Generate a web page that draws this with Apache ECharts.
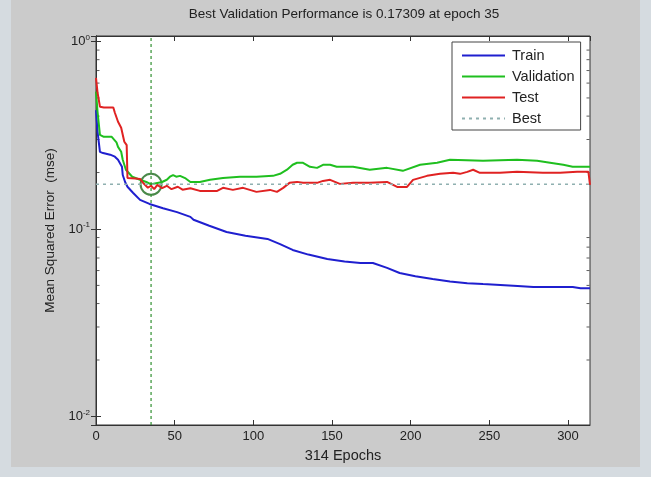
<!DOCTYPE html>
<html>
<head>
<meta charset="utf-8">
<script src="https://cdn.jsdelivr.net/npm/echarts@6/dist/echarts.min.js"></script>
<style>
    html, body { margin: 0; padding: 0; background: #d5dbe0; }
    #chart { width: 651px; height: 477px; }
</style>
</head>
<body>
<div id="chart"></div>
<script>
    // values: [epoch, mse]
    var trainData = [
        [0, 0.43], [1, 0.33], [2.5, 0.258], [4.5, 0.254], [9, 0.249], [12, 0.243], [14, 0.234],
        [16.5, 0.215], [17, 0.194], [18.5, 0.178], [20, 0.168], [23.5, 0.156], [28, 0.143],
        [34, 0.136], [42.6, 0.129], [51.5, 0.123], [60, 0.116], [62, 0.112], [72, 0.104],
        [83, 0.0964], [95, 0.092], [109, 0.0885], [117, 0.083], [125, 0.0773], [135, 0.073],
        [147, 0.0691], [158, 0.067], [168, 0.0658], [176, 0.0658], [185, 0.062], [193, 0.0582],
        [203, 0.056], [214, 0.0541], [225, 0.0525], [236, 0.0514], [246, 0.0508], [257, 0.0502],
        [268, 0.0496], [278, 0.049], [290, 0.049], [303, 0.049], [308, 0.0483], [314, 0.0483]
    ];
    var validData = [
        [0, 0.54], [1, 0.42], [2.5, 0.318], [5, 0.31], [10, 0.31], [11, 0.305], [13, 0.29],
        [14, 0.274], [16, 0.258], [17, 0.234], [19, 0.207], [23, 0.19], [28, 0.183], [32, 0.178],
        [35, 0.17309], [39, 0.176], [42, 0.178], [45, 0.183], [47, 0.19], [49, 0.194], [51, 0.19],
        [53.4, 0.192], [57, 0.186], [60, 0.178], [66, 0.178], [72.5, 0.183], [80.7, 0.187],
        [91.5, 0.19], [102, 0.19], [112.5, 0.192], [117, 0.197], [121.4, 0.207], [125, 0.22],
        [127.8, 0.2255], [131.6, 0.2255], [136, 0.2147], [140.5, 0.2118], [144.3, 0.22],
        [148.8, 0.22], [153, 0.2147], [163.4, 0.2147], [174, 0.2067], [185, 0.2118], [195, 0.2042],
        [206, 0.22], [216.8, 0.2255], [225, 0.234], [246, 0.231], [267.6, 0.234], [280.4, 0.231],
        [288.6, 0.2255], [297, 0.2198], [303, 0.2147], [314, 0.2147]
    ];
    var testData = [
        [0, 0.64], [1, 0.533], [2.5, 0.449], [5, 0.445], [11, 0.445], [12, 0.417], [14, 0.373],
        [16, 0.347], [18, 0.292], [19.5, 0.28], [20, 0.187], [25, 0.186], [28, 0.185], [30, 0.176],
        [33, 0.166], [35, 0.17], [37, 0.163], [39, 0.172], [42, 0.165], [45, 0.17], [48, 0.163],
        [52, 0.168], [55, 0.162], [60, 0.165], [66, 0.1596], [72, 0.1596], [77, 0.1596],
        [80.7, 0.1657], [87, 0.1616], [93.5, 0.1657], [102, 0.1577], [110.6, 0.1616], [115, 0.1577],
        [119, 0.1657], [123, 0.1762], [127.8, 0.1783], [131.6, 0.1762], [140.5, 0.1762],
        [144.3, 0.1805], [148.8, 0.1828], [155, 0.174], [163.4, 0.1762], [174, 0.1762],
        [185, 0.1783], [191.4, 0.1677], [197.7, 0.1677], [201.5, 0.1828], [210.4, 0.192],
        [218.7, 0.1968], [227, 0.1993], [231.4, 0.1968], [236, 0.2017], [239.7, 0.207],
        [244, 0.1993], [256.8, 0.1993], [267.6, 0.2017], [284, 0.1993], [295, 0.1993],
        [305.8, 0.2017], [313, 0.2017], [314, 0.172]
    ];
    var bestEpoch = 35;
    var bestPerf = 0.17309;
    var maxEpoch = 314;
    var yMin = 0.009;
    var yMax = 1.07;
    // minor log ticks (2..9 per decade)
    var minorTicks = [0.02, 0.03, 0.04, 0.05, 0.06, 0.07, 0.08, 0.09,
                      0.2, 0.3, 0.4, 0.5, 0.6, 0.7, 0.8, 0.9];

    var font = 'Liberation Sans, Arial, Helvetica, sans-serif';
    var ink = '#222';

    var chart = echarts.init(document.getElementById('chart'));

    var option = {
        animation: false,
        backgroundColor: '#d5dbe0',
        graphic: [{
            type: 'rect', z: -10, silent: true,
            shape: {x: 11, y: 0, width: 629, height: 467},
            style: {fill: '#cbcbcb'}
        }],
        title: {
            text: 'Best Validation Performance is ' + bestPerf + ' at epoch ' + bestEpoch,
            left: 339,
            textAlign: 'center',
            top: 2,
            textStyle: {fontFamily: font, fontSize: 13.5, fontWeight: 'normal', color: ink}
        },
        legend: {
            data: ['Train', 'Validation', 'Test', 'Best'],
            orient: 'vertical',
            left: 452,
            top: 42,
            padding: [6, 6, 4, 9],
            itemWidth: 43,
            itemHeight: 14,
            itemGap: 6,
            backgroundColor: '#fff',
            borderColor: '#444',
            borderWidth: 1,
            borderRadius: 0,
            itemStyle: {opacity: 0},
            textStyle: {fontFamily: font, fontSize: 14.5, color: ink, padding: [0, 0, 0, 2]}
        },
        grid: {left: 96, right: 61, top: 36, bottom: 52, show: true, backgroundColor: '#fff', borderColor: '#333', borderWidth: 1},
        xAxis: [{
            type: 'value',
            min: 0, max: maxEpoch, interval: 50,
            name: maxEpoch + ' Epochs',
            nameLocation: 'middle',
            nameGap: 23,
            nameTextStyle: {fontFamily: font, fontSize: 14.5, color: ink},
            axisLine: {lineStyle: {color: '#333'}},
            axisTick: {inside: true, length: 5, lineStyle: {color: '#333'}},
            axisLabel: {fontFamily: font, fontSize: 13, color: ink, margin: 5, showMaxLabel: false},
            splitLine: {show: false}
        }, {
            type: 'value', position: 'top',
            min: 0, max: maxEpoch, interval: 50,
            axisLine: {lineStyle: {color: '#333'}},
            axisTick: {inside: true, length: 5, lineStyle: {color: '#333'}},
            axisLabel: {show: false},
            splitLine: {show: false}
        }],
        yAxis: [{
            type: 'log',
            min: yMin, max: yMax,
            name: 'Mean Squared Error  (mse)',
            nameLocation: 'middle',
            nameGap: 34,
            nameRotate: 90,
            nameTextStyle: {fontFamily: font, fontSize: 13.5, color: ink},
            axisLine: {lineStyle: {color: '#333'}},
            axisTick: {inside: true, length: 5, lineStyle: {color: '#333'}},
            axisLabel: {
                showMinLabel: false, showMaxLabel: false, margin: 6,
                formatter: function (v) {
                    return '{b|10}{s|' + Math.round(Math.log10(v)) + '}';
                },
                rich: {
                    b: {fontFamily: font, fontSize: 13, color: ink},
                    s: {fontFamily: font, fontSize: 8, color: ink, verticalAlign: 'top', padding: [0, 0, 8, 0]}
                }
            },
            splitLine: {show: false}
        }, {
            type: 'log', position: 'right',
            min: yMin, max: yMax,
            axisLine: {show: true, lineStyle: {color: '#333'}},
            axisTick: {show: true, inside: true, length: 5, lineStyle: {color: '#333'}},
            axisLabel: {show: false},
            splitLine: {show: false}
        }],
        series: [{
            name: 'Train', type: 'line', symbol: 'none',
            color: '#1f1fcf', lineStyle: {width: 2},
            data: trainData
        }, {
            name: 'Validation', type: 'line', symbol: 'none',
            color: '#1fbf1f', lineStyle: {width: 2},
            data: validData
        }, {
            name: 'Test', type: 'line', symbol: 'none',
            color: '#e02222', lineStyle: {width: 2},
            data: testData
        }, {
            name: 'Best', type: 'line', symbol: 'none',
            color: '#8fb0b0', lineStyle: {width: 1.5, type: [3, 4]},
            data: [[0, bestPerf], [maxEpoch, bestPerf]]
        }, {
            name: 'bestV', type: 'line', symbol: 'none',
            color: '#2f8f2f', lineStyle: {width: 1.2, type: [3, 3]},
            data: [[bestEpoch, yMin], [bestEpoch, yMax]]
        }, {
            name: 'circle', type: 'scatter',
            symbol: 'emptyCircle', symbolSize: 21,
            itemStyle: {color: '#1d6b1d', borderColor: '#1d6b1d', borderWidth: 2},
            data: [[bestEpoch, bestPerf]]
        }, {
            name: 'minorL', type: 'scatter', symbol: 'rect', symbolSize: [3, 1], symbolOffset: [2, 0],
            itemStyle: {color: '#333'}, silent: true,
            data: minorTicks.map(function (v) { return [0, v]; })
        }, {
            name: 'minorR', type: 'scatter', symbol: 'rect', symbolSize: [3, 1], symbolOffset: [-2, 0],
            itemStyle: {color: '#333'}, silent: true,
            data: minorTicks.map(function (v) { return [maxEpoch, v]; })
        }]
    };
    chart.setOption(option);
</script>
</body>
</html>
